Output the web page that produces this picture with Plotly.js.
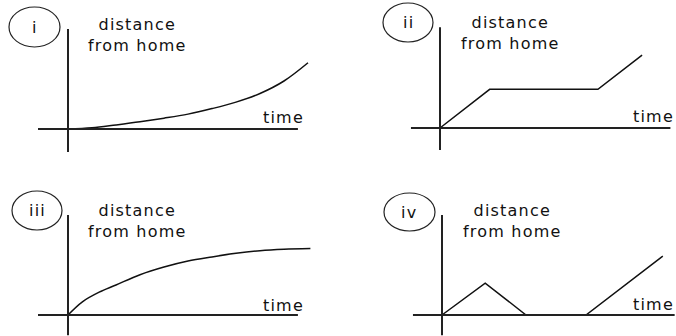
<!DOCTYPE html>
<html>
<head>
<meta charset="utf-8">
<script src="https://cdn.plot.ly/plotly-3.0.1.min.js"></script>
<style>
  html, body { margin: 0; padding: 0; background: #fff; }
  #graphs { width: 676px; height: 336px; }
  svg text { letter-spacing: 1.2px; }
</style>
</head>
<body>
<div id="graphs"></div>
<script>
// four "distance from home" vs time sketches
var panelNames = ['i', 'ii', 'iii', 'iv'];

var timeI = [0, 1, 2, 3, 4, 5, 6, 7, 8, 9, 10];
var distI = [0, 0.05, 0.17, 0.3, 0.45, 0.62, 0.85, 1.12, 1.48, 2.0, 2.76];

var timeII = [0, 2.07, 6.58, 8.42];
var distII = [0, 1.61, 1.61, 3.04];

var timeIII = [0, 0.6, 1.3, 2, 3, 4, 5, 6, 7, 8, 9, 10.1];
var distIII = [0, 0.55, 0.95, 1.25, 1.68, 2.0, 2.25, 2.42, 2.57, 2.68, 2.74, 2.77];

var timeIV = [0, 1.8, 3.5, 6.0, 9.2];
var distIV = [0, 1.33, 0, 0, 2.45];

var W = 676, H = 336, U = 24; // U = pixels per unit

// origin of each little graph, in page pixels
var origins = [[68, 129], [440, 128], [68, 315], [442, 315]];
var xRanges = [[-1.5, 10.5], [-1.3, 9.7], [-1.5, 10.5], [-1.3, 9.7]];
var yRanges = [[-1.2, 4.4], [-1.2, 4.4], [-0.85, 4.4], [-0.85, 4.4]];
// where the drawn axis lines stop
var hAxisEnds = [[-1.25, 9.58], [-1.21, 9.6], [-1.25, 9.58], [-1.21, 9.7]];
var vAxisEnds = [[-0.96, 4.17], [-0.92, 4.2], [-0.85, 4.17], [-0.85, 4.17]];

var lineShapes = ['spline', 'linear', 'spline', 'linear'];
var xs = [timeI, timeII, timeIII, timeIV];
var ys = [distI, distII, distIII, distIV];

// label positions (page pixels)
var circleBoxes = [[9, 7, 60, 47], [383, 3, 433, 42], [12, 191, 62, 230], [384, 193, 435, 231]];
var titlePos = [[137, 35], [510, 33], [137, 221], [512, 221]];
var timePos = [[283, 118], [653, 116], [283, 305], [653, 304]];

var px = function (x) { return x / W; };
var py = function (y) { return 1 - y / H; };

var data = [];
var layout = {
  width: W,
  height: H,
  margin: {l: 0, r: 0, t: 0, b: 0},
  paper_bgcolor: '#fff',
  plot_bgcolor: 'rgba(0,0,0,0)',
  showlegend: false,
  shapes: [],
  annotations: []
};

var txtFont = {family: 'DejaVu Sans, sans-serif', size: 16, color: '#111'};

for (var i = 0; i < 4; i++) {
  var n = i === 0 ? '' : String(i + 1);
  var o = origins[i];
  data.push({
    x: xs[i],
    y: ys[i],
    xaxis: 'x' + n,
    yaxis: 'y' + n,
    type: 'scatter',
    mode: 'lines',
    line: {color: '#111', width: 1.5, shape: lineShapes[i], smoothing: 1},
    hoverinfo: 'skip'
  });

  layout['xaxis' + n] = {
    domain: [px(o[0] + xRanges[i][0] * U), px(o[0] + xRanges[i][1] * U)],
    range: xRanges[i],
    visible: false,
    fixedrange: true,
    anchor: 'y' + n
  };
  layout['yaxis' + n] = {
    domain: [py(o[1] - yRanges[i][0] * U), py(o[1] - yRanges[i][1] * U)],
    range: yRanges[i],
    visible: false,
    fixedrange: true,
    anchor: 'x' + n
  };

  // axis cross
  layout.shapes.push({
    type: 'line', xref: 'x' + n, yref: 'y' + n,
    x0: hAxisEnds[i][0], x1: hAxisEnds[i][1], y0: 0, y1: 0,
    line: {color: '#222', width: 2}
  });
  layout.shapes.push({
    type: 'line', xref: 'x' + n, yref: 'y' + n,
    x0: 0, x1: 0, y0: vAxisEnds[i][0], y1: vAxisEnds[i][1],
    line: {color: '#222', width: 2}
  });

  // circled numeral
  var c = circleBoxes[i];
  layout.shapes.push({
    type: 'circle', xref: 'paper', yref: 'paper',
    x0: px(c[0]), x1: px(c[2]), y0: py(c[3]), y1: py(c[1]),
    line: {color: '#222', width: 1.2}
  });
  layout.annotations.push({
    xref: 'paper', yref: 'paper',
    x: px((c[0] + c[2]) / 2), y: py((c[1] + c[3]) / 2),
    text: panelNames[i], showarrow: false,
    xanchor: 'center', yanchor: 'middle', font: txtFont
  });

  layout.annotations.push({
    xref: 'paper', yref: 'paper',
    x: px(titlePos[i][0]), y: py(titlePos[i][1]),
    text: 'distance<br>from home', showarrow: false,
    xanchor: 'center', yanchor: 'middle', align: 'center', font: txtFont
  });
  layout.annotations.push({
    xref: 'paper', yref: 'paper',
    x: px(timePos[i][0]), y: py(timePos[i][1]),
    text: 'time', showarrow: false,
    xanchor: 'center', yanchor: 'middle', font: txtFont
  });
}

Plotly.newPlot('graphs', data, layout, {staticPlot: true});
</script>
</body>
</html>
